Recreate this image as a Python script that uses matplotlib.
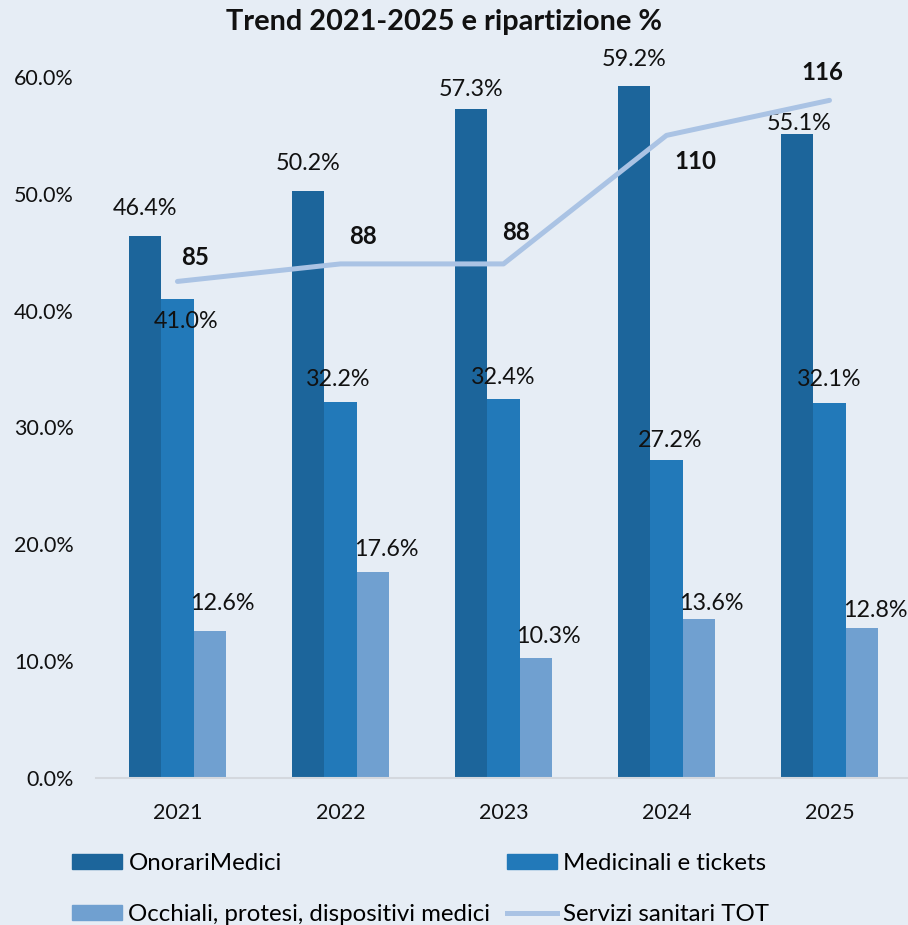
import matplotlib
matplotlib.use('Agg')
import numpy as np
import matplotlib.pyplot as plt
from matplotlib.ticker import PercentFormatter
from matplotlib.lines import Line2D
from matplotlib.patches import Patch

plt.rcParams['font.family'] = ['Lato', 'DejaVu Sans']

years = ['2021', '2022', '2023', '2024', '2025']
onorari = [46.4, 50.2, 57.3, 59.2, 55.1]
medicinali = [41.0, 32.2, 32.4, 27.2, 32.1]
occhiali = [12.6, 17.6, 10.3, 13.6, 12.8]
servizi_tot = [85, 88, 88, 110, 116]

series_names = ['OnorariMedici', 'Medicinali e tickets',
                'Occhiali, protesi, dispositivi medici']
line_name = 'Servizi sanitari TOT'

# colours
bg = '#E6EDF5'
colors = ['#1C659B', '#2279B9', '#70A0D0']
line_color = '#AAC3E4'

# label offsets in pixels (dx, dy) as placed in the original chart
bar_label_off = [
    [(0, 27), (0, 28), (0, 19), (0, 27), (2, 11)],
    [(9, -23), (-2, 22), (0, 22), (4, 20), (0, 23)],
    [(12, 27), (13, 23), (12, 21), (12, 16), (13, 18)],
]
line_label_off = [(18, 24), (23, 27), (13, 31), (29, -26), (-7, 28)]

fig = plt.figure(figsize=(9.08, 9.25), dpi=100, facecolor=bg)
ax = fig.add_axes([0.1057, 0.1589, 0.8976, 0.7579])
ax.set_facecolor(bg)

x = np.arange(len(years))
width = 0.2
lab_fs = 16.8

all_vals = [onorari, medicinali, occhiali]
for i, vals in enumerate(all_vals):
    pos = x + (i - 1) * width
    ax.bar(pos, vals, width, color=colors[i], zorder=2)
    for j, v in enumerate(vals):
        dx, dy = bar_label_off[i][j]
        ax.annotate(f'{v:.1f}%', (pos[j], v), xytext=(dx, dy),
                    textcoords='offset pixels', ha='center', va='center',
                    fontsize=lab_fs, color='#111111')

ax.set_xlim(-0.5, len(years) - 0.5)
ax.set_ylim(0, 60)
ax.set_yticks(np.arange(0, 61, 10))
ax.yaxis.set_major_formatter(PercentFormatter(decimals=1))
ax.set_xticks(x)
ax.set_xticklabels(years)
ax.tick_params(axis='both', length=0, labelsize=15.5, colors='#111111')
ax.tick_params(axis='y', pad=16)
ax.tick_params(axis='x', pad=18)
for s in ['top', 'right', 'left']:
    ax.spines[s].set_visible(False)
ax.spines['bottom'].set_color('#D4D8DE')
ax.spines['bottom'].set_linewidth(1.5)

ax2 = ax.twinx()
ax2.set_ylim(0, 120)
ax2.plot(x, servizi_tot, color=line_color, lw=3.6, solid_capstyle='round', zorder=3)
for j, v in enumerate(servizi_tot):
    dx, dy = line_label_off[j]
    ax2.annotate(str(v), (x[j], v), xytext=(dx, dy), textcoords='offset pixels',
                 ha='center', va='center', fontsize=17.3, fontweight='bold',
                 color='#111111')
ax2.set_yticks([])
for s in ax2.spines.values():
    s.set_visible(False)

fig.text(0.489, 0.976, 'Trend 2021-2025 e ripartizione %', ha='center', va='center',
         fontsize=20.8, fontweight='bold', color='#111111')

handles = [Patch(color=colors[0]), Patch(color=colors[2]),
           Patch(color=colors[1]), Line2D([0], [0], color=line_color, lw=3.6)]
labels = [series_names[0], series_names[2], series_names[1], line_name]
fig.legend(handles, labels, ncol=2, loc='upper left', bbox_to_anchor=(0.0793, 0.0775),
           frameon=False, fontsize=17.3, handlelength=2.1, handleheight=0.58,
           handletextpad=0.25, columnspacing=0.67, labelspacing=1.24,
           borderaxespad=0, borderpad=0)

fig.savefig('out.png', dpi=100, facecolor=bg)
